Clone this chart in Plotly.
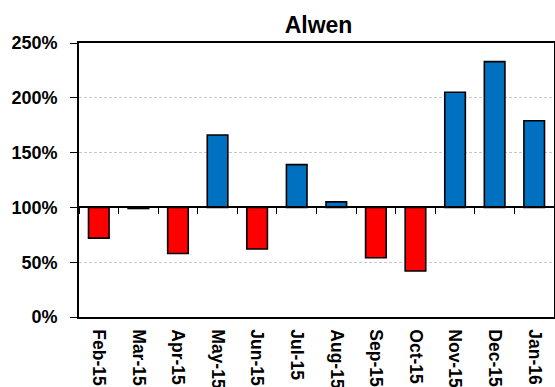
import plotly.graph_objects as go

months = ["Feb-15", "Mar-15", "Apr-15", "May-15", "Jun-15", "Jul-15",
          "Aug-15", "Sep-15", "Oct-15", "Nov-15", "Dec-15", "Jan-16"]
pct_of_baseline = [72, 99, 58, 166, 62, 139, 105, 54, 42, 205, 233, 179]
baseline = 100
y_ticks = [0, 50, 100, 150, 200, 250]
y_tick_labels = [f"{t}%" for t in y_ticks]

BLUE = "#0070C0"
RED = "#FF0000"
colors = [BLUE if v >= baseline else RED for v in pct_of_baseline]

fig = go.Figure()

# Bars grow from the 100% line up or down
fig.add_trace(go.Bar(
    x=months,
    y=[v - baseline for v in pct_of_baseline],
    base=baseline,
    width=0.52,
    marker=dict(color=colors, line=dict(color="black", width=1.6)),
    customdata=pct_of_baseline,
    hovertemplate="%{x}: %{customdata}%<extra></extra>",
    showlegend=False,
))

# Invisible trace so the crossing category axis at 100% gets its ticks
fig.add_trace(go.Scatter(
    x=months, y=pct_of_baseline, xaxis="x2", mode="none",
    showlegend=False, hoverinfo="skip",
))

fig.update_layout(
    width=555, height=387,
    margin=dict(l=79, r=1, t=43, b=70),
    paper_bgcolor="white", plot_bgcolor="white",
    title=dict(text="<b>Alwen</b>", x=0.574, xanchor="center", y=0.935,
               yanchor="middle",
               font=dict(family="Liberation Sans, Arial", size=23, color="black")),
    font=dict(family="Liberation Sans, Arial", color="black"),
    xaxis=dict(
        type="category", categoryorder="array", categoryarray=months,
        range=[-0.5, len(months) - 0.5], automargin=False,
        showline=True, linecolor="black", linewidth=1.6, mirror=True,
        ticks="", tickangle=90, ticklabelstandoff=7,
        tickfont=dict(size=17.5, family="Liberation Sans, Arial", weight="bold"),
        showgrid=False,
    ),
    xaxis2=dict(
        type="category", categoryorder="array", categoryarray=months,
        range=[-0.5, len(months) - 0.5], automargin=False,
        overlaying="x", anchor="free", position=baseline / 250,
        showline=True, linecolor="black", linewidth=1.6,
        ticks="outside", tickson="boundaries", ticklen=6, tickwidth=1.3,
        tickcolor="black", showticklabels=False, showgrid=False,
    ),
    yaxis=dict(
        range=[0, 250], tickvals=y_ticks, ticktext=y_tick_labels,
        automargin=False,
        showline=True, linecolor="black", linewidth=1.6, mirror=True,
        ticks="outside", ticklen=7, tickwidth=1.3, tickcolor="black",
        ticklabelstandoff=9,
        tickfont=dict(size=18, family="Liberation Sans, Arial", weight="bold"),
        showgrid=True, gridcolor="#c8c8c8", gridwidth=1, griddash="3px,2px",
        zeroline=False,
    ),
)

fig.write_html("out.html")
